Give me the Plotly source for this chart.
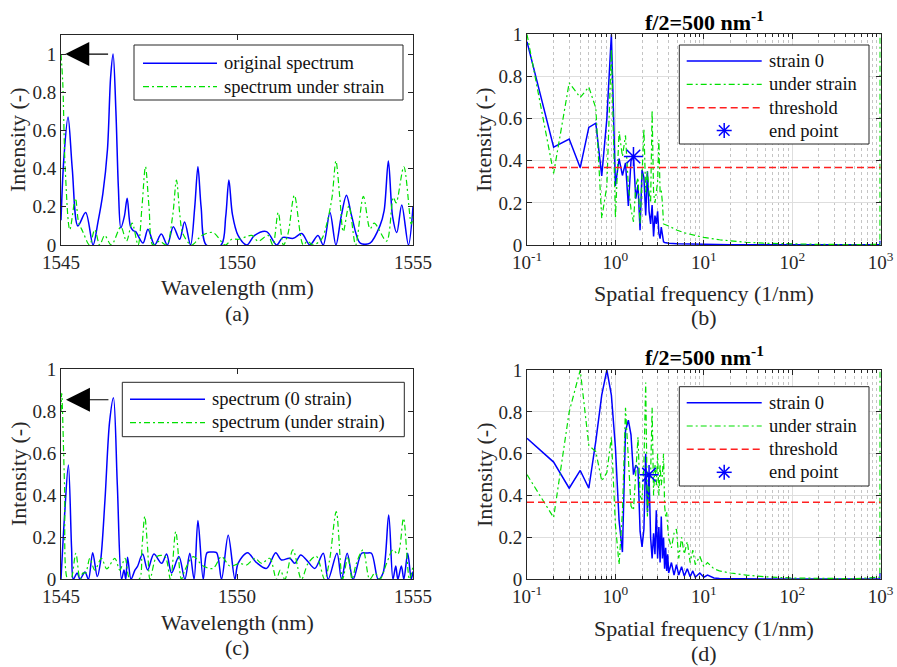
import plotly.graph_objects as go
import numpy as np

# ---------------- data: panel (a) ----------------
wl_a_orig = [1545.00, 1545.08, 1545.20, 1545.32, 1545.48, 1545.70, 1545.91, 1546.05, 1546.19, 1546.32,
             1546.41, 1546.48, 1546.56, 1546.63, 1546.70, 1546.80, 1546.88, 1546.97, 1547.05, 1547.12,
             1547.33, 1547.47, 1547.66, 1547.85, 1548.02, 1548.19, 1548.37, 1548.51, 1548.68, 1548.80,
             1548.89, 1548.98, 1549.13, 1549.55, 1549.68, 1549.77, 1549.87, 1550.03, 1550.28, 1550.50,
             1550.84, 1551.13, 1551.30, 1551.60, 1551.84, 1552.07, 1552.30, 1552.45, 1552.64, 1552.81,
             1552.96, 1553.11, 1553.26, 1553.50, 1553.78, 1554.06, 1554.18, 1554.30, 1554.42, 1554.54,
             1554.68, 1554.87, 1555.00]
int_a_orig = [0.13, 0.45, 0.67, 0.40, 0.10, 0.17, 0.00, 0.12, 0.27, 0.50,
              0.88, 1.00, 0.70, 0.30, 0.09, 0.15, 0.245, 0.10, 0.075, 0.07,
              0.01, 0.083, 0.00, 0.057, 0.00, 0.096, 0.03, 0.12, 0.00, 0.20,
              0.41, 0.20, 0.00, 0.00, 0.15, 0.34, 0.16, 0.05, 0.00, 0.05,
              0.07, 0.00, 0.04, 0.035, 0.06, 0.00, 0.05, 0.00, 0.17, 0.00,
              0.15, 0.26, 0.15, 0.01, 0.01, 0.10, 0.18, 0.44, 0.15, 0.065,
              0.21, 0.00, 0.20]

wl_a_strain = [1545.00, 1545.05, 1545.12, 1545.25, 1545.41, 1545.50, 1545.62, 1545.81, 1545.96, 1546.10,
               1546.24, 1546.43, 1546.70, 1546.86, 1547.02, 1547.19, 1547.30, 1547.40, 1547.50, 1547.61,
               1547.80, 1548.00, 1548.17, 1548.28, 1548.38, 1548.46, 1548.71, 1549.00, 1549.32, 1549.67,
               1549.85, 1550.05, 1550.42, 1550.60, 1550.88, 1551.02, 1551.17, 1551.32, 1551.45, 1551.63,
               1551.88, 1552.00, 1552.16, 1552.40, 1552.55, 1552.70, 1552.81, 1552.92, 1553.02, 1553.18,
               1553.37, 1553.59, 1553.78, 1553.90, 1554.25, 1554.44, 1554.52, 1554.74, 1554.95, 1555.00]
int_a_strain = [1.00, 0.85, 0.40, 0.08, 0.245, 0.12, 0.07, 0.00, 0.08, 0.00,
                0.05, 0.00, 0.095, 0.02, 0.115, 0.00, 0.20, 0.41, 0.20, 0.00,
                0.02, 0.00, 0.15, 0.34, 0.15, 0.06, 0.00, 0.05, 0.065, 0.00,
                0.03, 0.03, 0.05, 0.02, 0.05, 0.00, 0.17, 0.00, 0.06, 0.26,
                0.00, 0.02, 0.00, 0.03, 0.11, 0.25, 0.44, 0.25, 0.07, 0.205,
                0.00, 0.255, 0.085, 0.115, 0.02, 0.25, 0.22, 0.41, 0.11, 0.15]

# ---------------- data: panel (c) ----------------
wl_c_zero = [1545.00, 1545.10, 1545.21, 1545.30, 1545.35, 1545.46, 1545.54, 1545.68, 1545.78, 1545.90,
             1546.03, 1546.12, 1546.25, 1546.38, 1546.49, 1546.60, 1546.72, 1546.79, 1546.84, 1546.89,
             1546.99, 1547.10, 1547.17, 1547.32, 1547.46, 1547.64, 1547.86, 1548.00, 1548.14, 1548.35,
             1548.52, 1548.66, 1548.78, 1548.89, 1549.04, 1549.15, 1549.28, 1549.42, 1549.56, 1549.75,
             1549.94, 1550.03, 1550.30, 1550.55, 1550.84, 1551.10, 1551.26, 1551.50, 1551.64, 1551.81,
             1551.99, 1552.21, 1552.45, 1552.59, 1552.84, 1552.97, 1553.13, 1553.30, 1553.54, 1553.68,
             1553.82, 1554.01, 1554.15, 1554.31, 1554.43, 1554.51, 1554.57, 1554.67, 1554.74, 1554.85,
             1554.95, 1555.00]
int_c_zero = [0.00, 0.30, 0.544, 0.15, 0.00, 0.03, 0.00, 0.035, 0.00, 0.127,
              0.013, 0.08, 0.38, 0.75, 0.865, 0.45, 0.00, 0.044, 0.00, 0.105,
              0.00, 0.044, 0.06, 0.12, 0.044, 0.12, 0.076, 0.12, 0.03, 0.108,
              0.00, 0.124, 0.00, 0.28, 0.00, 0.127, 0.13, 0.127, 0.00, 0.21,
              0.00, 0.076, 0.127, 0.08, 0.052, 0.127, 0.092, 0.10, 0.076, 0.116,
              0.089, 0.052, 0.124, 0.00, 0.124, 0.00, 0.124, 0.00, 0.124, 0.125,
              0.124, 0.00, 0.03, 0.306, 0.00, 0.063, 0.00, 0.063, 0.00, 0.124,
              0.00, 0.037]

wl_c_strain = [1545.00, 1545.02, 1545.10, 1545.19, 1545.28, 1545.42, 1545.54, 1545.62, 1545.70, 1545.82,
               1545.96, 1546.15, 1546.30, 1546.53, 1546.67, 1546.82, 1546.96, 1547.22, 1547.30, 1547.38,
               1547.46, 1547.53, 1547.72, 1547.95, 1548.11, 1548.26, 1548.42, 1548.52, 1548.76, 1549.04,
               1549.32, 1549.56, 1549.80, 1550.08, 1550.27, 1550.51, 1550.70, 1550.93, 1551.12, 1551.23,
               1551.36, 1551.59, 1551.83, 1552.02, 1552.25, 1552.49, 1552.63, 1552.82, 1553.00, 1553.15,
               1553.27, 1553.39, 1553.58, 1553.77, 1553.92, 1554.06, 1554.25, 1554.43, 1554.57, 1554.73,
               1554.90, 1555.00]
int_c_strain = [0.80, 0.886, 0.45, 0.00, 0.00, 0.124, 0.00, 0.03, 0.03, 0.10,
                0.044, 0.10, 0.05, 0.10, 0.044, 0.10, 0.00, 0.00, 0.15, 0.30,
                0.15, 0.00, 0.108, 0.11, 0.00, 0.227, 0.00, 0.044, 0.108, 0.063,
                0.052, 0.108, 0.063, 0.076, 0.068, 0.10, 0.076, 0.10, 0.00, 0.044,
                0.00, 0.14, 0.00, 0.076, 0.11, 0.00, 0.092, 0.322, 0.00, 0.108,
                0.00, 0.076, 0.14, 0.00, 0.03, 0.00, 0.076, 0.14, 0.12, 0.29,
                0.00, 0.063]

# ---------------- data: panel (b) ----------------
freq_b = [0.1, 0.2, 0.3, 0.4, 0.5, 0.6, 0.7, 0.8, 0.9, 1.0,
          1.1, 1.2, 1.3, 1.4, 1.5, 1.6, 1.7, 1.8, 1.9, 2.0,
          2.1, 2.2, 2.3, 2.4, 2.5, 2.6, 2.7, 2.8, 2.9, 3.0,
          3.1, 3.2, 3.3, 3.4, 3.5, 3.6, 4.0, 5.0, 6.0, 8.0,
          10.0, 15.0, 20.0, 30.0, 50.0, 100.0, 200.0, 500.0, 975.0, 982.0, 985.0]
spec_b_zero = [0.965, 0.464, 0.503, 0.367, 0.558, 0.578, 0.328, 0.60, 1.00, 0.28,
               0.41, 0.33, 0.39, 0.185, 0.40, 0.42, 0.22, 0.285, 0.07, 0.356,
               0.32, 0.14, 0.35, 0.16, 0.10, 0.19, 0.04, 0.14, 0.10, 0.16,
               0.055, 0.03, 0.085, 0.04, 0.015, 0.012, 0.008, 0.006, 0.005, 0.004,
               0.003, 0.002, 0.0015, 0.001, 0.001, 0.001, 0.001, 0.001, 0.001, 0.01, 0.02]
spec_b_strain = [1.00, 0.34, 0.77, 0.70, 0.75, 0.65, 0.127, 0.28, 0.93, 0.13,
                 0.54, 0.42, 0.52, 0.28, 0.17, 0.11, 0.28, 0.32, 0.10, 0.32,
                 0.55, 0.25, 0.35, 0.25, 0.20, 0.64, 0.25, 0.20, 0.25, 0.30,
                 0.50, 0.25, 0.26, 0.20, 0.10, 0.097, 0.09, 0.07, 0.058, 0.045,
                 0.036, 0.025, 0.019, 0.013, 0.008, 0.005, 0.003, 0.002, 0.003, 0.02, 1.00]
end_b_freq = [1.6]
end_b_int = [0.42]

# ---------------- data: panel (d) ----------------
freq_d = [0.1, 0.2, 0.3, 0.4, 0.5, 0.6, 0.7, 0.8, 0.9, 1.0,
          1.1, 1.2, 1.3, 1.4, 1.5, 1.6, 1.7, 1.8, 1.9, 2.0,
          2.1, 2.2, 2.3, 2.4, 2.5, 2.6, 2.7, 2.8, 2.9, 3.0,
          3.1, 3.2, 3.3, 3.4, 3.5, 3.6, 3.7, 3.8, 3.9, 4.0,
          4.3, 4.6, 4.9, 5.2, 5.6, 6.0, 6.5, 7.0, 7.5, 8.0,
          9.0, 10.0, 11.0, 13.0, 15.0, 20.0, 30.0, 50.0, 100.0, 500.0,
          980.0, 985.0]
spec_d_zero = [0.674, 0.56, 0.435, 0.52, 0.435, 0.66, 0.88, 1.00, 0.88, 0.63,
               0.28, 0.13, 0.71, 0.76, 0.69, 0.50, 0.545, 0.53, 0.23, 0.155,
               0.24, 0.60, 0.32, 0.50, 0.20, 0.10, 0.22, 0.12, 0.33, 0.10,
               0.25, 0.08, 0.30, 0.10, 0.20, 0.05, 0.15, 0.04, 0.12, 0.03,
               0.08, 0.02, 0.07, 0.02, 0.06, 0.015, 0.05, 0.012, 0.04, 0.01,
               0.03, 0.01, 0.02, 0.006, 0.004, 0.003, 0.002, 0.001, 0.001, 0.001,
               0.002, 0.03]
spec_d_strain = [0.50, 0.295, 0.80, 1.00, 0.64, 0.61, 0.47, 0.51, 0.68, 0.26,
                 0.07, 0.32, 0.82, 0.55, 0.35, 0.33, 0.50, 0.68, 0.40, 0.38,
                 0.55, 0.94, 0.30, 0.45, 0.50, 0.82, 0.40, 0.55, 0.45, 0.60,
                 0.40, 0.55, 0.45, 0.50, 0.60, 0.35, 0.30, 0.32, 0.25, 0.20,
                 0.15, 0.22, 0.24, 0.10, 0.20, 0.12, 0.18, 0.08, 0.14, 0.07,
                 0.11, 0.06, 0.08, 0.05, 0.04, 0.03, 0.02, 0.012, 0.006, 0.003,
                 0.01, 1.00]
end_d_freq = [2.4]
end_d_int = [0.50]

threshold = 0.368
thr_freq = [0.1, 1000.0]

# ---------------- tick labels / legend labels ----------------
wl_ticks = [1545, 1550, 1555]
wl_ticktext = ["1545", "1550", "1555"]
int_ticks = [0, 0.2, 0.4, 0.6, 0.8, 1.0]
int_ticktext = ["0", "0.2", "0.4", "0.6", "0.8", "1"]
freq_ticks = [0.1, 1, 10, 100, 1000]
freq_ticktext = ["10<sup>-1</sup>", "10<sup>0</sup>", "10<sup>1</sup>", "10<sup>2</sup>", "10<sup>3</sup>"]
freq_minor = [m * d for d in (0.1, 1, 10, 100) for m in range(2, 10)]
legend_a = ["original spectrum", "spectrum under strain"]
legend_c = ["spectrum (0 strain)", "spectrum (under strain)"]
legend_bd = ["strain 0", "under strain", "threshold", "end point"]

# ---------------- styling ----------------
FONT = "Liberation Serif, Times New Roman, DejaVu Serif, serif"
AX = "#262626"
BLUE = "#0000ff"
GREEN = "#00e000"
RED = "#ff2020"
W, H = 897, 667
green_dash = "6px,3px,2px,3px"
red_dash = "7px,4px"
STY = {
    "blue": dict(color=BLUE, width=1.5, dash="solid"),
    "green": dict(color=GREEN, width=1.2, dash=green_dash),
    "red": dict(color=RED, width=1.5, dash=red_dash),
}
STAR = dict(symbol="asterisk-open", size=16, color=BLUE, line=dict(color=BLUE, width=1.5))

def dom_x(p0, p1):
    return [p0 / W, p1 / W]

def dom_y(ptop, pbot):
    return [1 - pbot / H, 1 - ptop / H]

fig = go.Figure()

def line_trace(x, y, style, xa, ya, spline=False):
    ln = dict(STY[style])
    if spline:
        ln.update(shape="spline", smoothing=0.9)
    fig.add_trace(go.Scatter(x=x, y=y, mode="lines", line=ln, xaxis=xa, yaxis=ya,
                             showlegend=False, hoverinfo="skip"))

# (a)
line_trace(wl_a_orig, int_a_orig, "blue", "x", "y", spline=True)
line_trace(wl_a_strain, int_a_strain, "green", "x", "y", spline=True)
# (b)
line_trace(freq_b, spec_b_zero, "blue", "x2", "y2")
line_trace(freq_b, spec_b_strain, "green", "x2", "y2")
line_trace(thr_freq, [threshold] * len(thr_freq), "red", "x2", "y2")
fig.add_trace(go.Scatter(x=end_b_freq, y=end_b_int, mode="markers", marker=STAR,
                         xaxis="x2", yaxis="y2", showlegend=False))
# (c)
line_trace(wl_c_zero, int_c_zero, "blue", "x3", "y3", spline=True)
line_trace(wl_c_strain, int_c_strain, "green", "x3", "y3", spline=True)
# (d)
line_trace(freq_d, spec_d_zero, "blue", "x4", "y4")
line_trace(freq_d, spec_d_strain, "green", "x4", "y4")
line_trace(thr_freq, [threshold] * len(thr_freq), "red", "x4", "y4")
fig.add_trace(go.Scatter(x=end_d_freq, y=end_d_int, mode="markers", marker=STAR,
                         xaxis="x4", yaxis="y4", showlegend=False))

tickfont = dict(family=FONT, size=19, color=AX)
common = dict(showline=True, linecolor=AX, linewidth=1, mirror="allticks", ticks="inside",
              ticklen=5, tickcolor=AX, tickfont=tickfont, zeroline=False, automargin=False)

wl_axis = dict(common, range=[1545, 1555], tickmode="array", tickvals=wl_ticks, ticktext=wl_ticktext,
               showgrid=False)
log_axis = dict(common, type="log", range=[-1, 3], tickmode="array", tickvals=freq_ticks,
                ticktext=freq_ticktext, showgrid=True, gridcolor="#dedede", gridwidth=1,
                minor=dict(tickmode="array", tickvals=freq_minor, ticks="inside", ticklen=3,
                           tickcolor=AX, showgrid=True, gridcolor="#c4c4c4", griddash="dot", gridwidth=1))

fig.update_layout(
    width=W, height=H, margin=dict(l=0, r=0, t=0, b=0, autoexpand=False),
    paper_bgcolor="white", plot_bgcolor="white", showlegend=False,
    font=dict(family=FONT),
    xaxis=dict(wl_axis, domain=dom_x(61, 413), anchor="y"),
    yaxis=dict(common, domain=dom_y(35, 245), range=[0, 1.1], tickmode="array", tickvals=int_ticks,
               ticktext=int_ticktext, showgrid=False, anchor="x"),
    xaxis2=dict(log_axis, domain=dom_x(527, 880.7), anchor="y2"),
    yaxis2=dict(common, domain=dom_y(34.3, 245), range=[0, 1], tickmode="array", tickvals=int_ticks,
                ticktext=int_ticktext, showgrid=True, gridcolor="#dedede", anchor="x2"),
    xaxis3=dict(wl_axis, domain=dom_x(61, 413), anchor="y3"),
    yaxis3=dict(common, domain=dom_y(369.3, 579.3), range=[0, 1], tickmode="array", tickvals=int_ticks,
                ticktext=int_ticktext, showgrid=False, anchor="x3"),
    xaxis4=dict(log_axis, domain=dom_x(527, 880.7), anchor="y4"),
    yaxis4=dict(common, domain=dom_y(370, 579.3), range=[0, 1], tickmode="array", tickvals=int_ticks,
                ticktext=int_ticktext, showgrid=True, gridcolor="#dedede", anchor="x4"),
)

labfont = dict(family=FONT, size=22, color=AX)
legfont = dict(family=FONT, size=18.5, color="#111111")
anns = []
shapes = []

def txt(x, y, text, angle=0, font=labfont, xanchor="center"):
    anns.append(dict(x=x / W, y=1 - y / H, xref="paper", yref="paper", text=text, showarrow=False,
                     textangle=angle, font=font, xanchor=xanchor, yanchor="middle"))

def pline(x0, y0, x1, y1, color, width, dash="solid"):
    shapes.append(dict(type="line", xref="paper", yref="paper", x0=x0 / W, x1=x1 / W,
                       y0=1 - y0 / H, y1=1 - y1 / H, layer="above",
                       line=dict(color=color, width=width, dash=dash)))

# axis labels and captions
txt(237, 287, "Wavelength (nm)")
txt(237, 313, "(a)")
txt(18, 140, "Intensity (-)", angle=-90)
txt(704, 293, "Spatial frequency (1/nm)")
txt(704, 318, "(b)")
txt(484, 140, "Intensity (-)", angle=-90)
txt(237, 622, "Wavelength (nm)")
txt(237, 647, "(c)")
txt(18, 474, "Intensity (-)", angle=-90)
txt(704, 628, "Spatial frequency (1/nm)")
txt(704, 653, "(d)")
txt(484, 475, "Intensity (-)", angle=-90)
titlefont = dict(family=FONT, size=22, color="black")
txt(704, 21, "<b>f/2=500 nm<sup>-1</sup></b>", font=titlefont)
txt(704, 356, "<b>f/2=500 nm<sup>-1</sup></b>", font=titlefont)

# legends (box, symbol sample, label), laid out in page pixels
def legend(box, sx0, sx1, tx, rows, labels, styles):
    x0, y0, x1, y1 = box
    shapes.append(dict(type="rect", xref="paper", yref="paper", x0=x0 / W, x1=x1 / W,
                       y0=1 - y1 / H, y1=1 - y0 / H, line=dict(color=AX, width=1), fillcolor="white",
                       layer="above"))
    for ry, lab, st in zip(rows, labels, styles):
        if st == "star":
            cx, r = (sx0 + sx1) / 2, 7.5
            for dx, dy in ((1, 0), (0, 1), (0.7071, 0.7071), (0.7071, -0.7071)):
                pline(cx - r * dx, ry - r * dy, cx + r * dx, ry + r * dy, BLUE, 1.5)
        else:
            s = STY[st]
            pline(sx0, ry, sx1, ry, s["color"], s["width"], s["dash"])
        txt(tx, ry, lab, font=legfont, xanchor="left")

legend((134, 45, 403, 100), 143, 217, 222, [63.3, 86.7], legend_a, ["blue", "green"])
legend((679.3, 45, 869, 144), 686.7, 761.7, 766.5, [61, 84.3, 107.7, 130.5], legend_bd,
       ["blue", "green", "red", "star"])
legend((122.3, 382.3, 404.3, 436.7), 130, 205, 210, [399.3, 422.7], legend_c, ["blue", "green"])
legend((679.3, 386.7, 869, 486), 686.7, 761.7, 766.5, [402.7, 426, 449.3, 472.3], legend_bd,
       ["blue", "green", "red", "star"])

# arrows from the original-spectrum peak to the strained-spectrum peak
ia = int(np.argmax(int_a_orig)); ja = int(np.argmax(int_a_strain))
anns.append(dict(x=wl_a_strain[ja] + 0.12, y=int_a_orig[ia], ax=wl_a_orig[ia] - 0.1, ay=int_a_orig[ia],
                 xref="x", yref="y", axref="x", ayref="y", showarrow=True, arrowhead=2,
                 arrowsize=4, arrowwidth=1.2, arrowcolor="black", text=""))
ic = int(np.argmax(int_c_zero)); jc = int(np.argmax(int_c_strain))
anns.append(dict(x=wl_c_strain[jc] + 0.12, y=int_c_zero[ic] - 0.01, ax=wl_c_zero[ic] - 0.1,
                 ay=int_c_zero[ic] - 0.01, xref="x3", yref="y3", axref="x3", ayref="y3", showarrow=True,
                 arrowhead=2, arrowsize=4, arrowwidth=1.2, arrowcolor="black", text=""))

fig.update_layout(annotations=anns, shapes=shapes)
fig.write_html("out.html", config={"displayModeBar": False},
               post_script="document.body.style.margin='0px';")
